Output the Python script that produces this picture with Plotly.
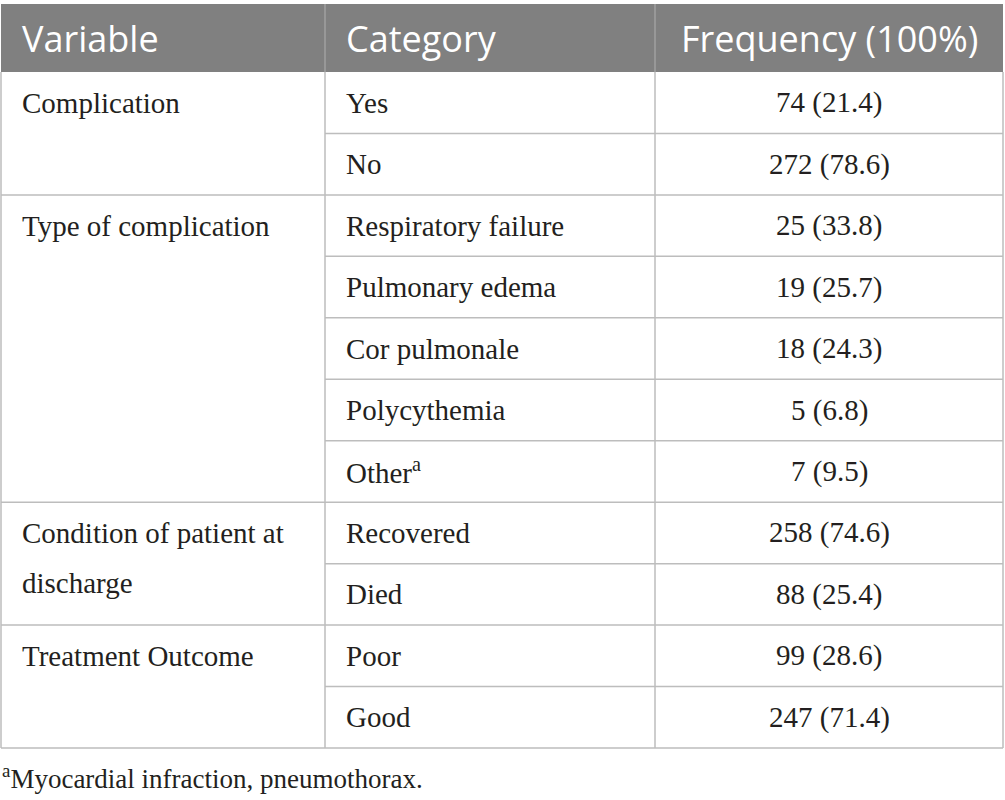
import plotly.graph_objects as go

# 表格数据
headers = ["Variable", "Category", "Frequency (100%)"]
variables = ["Complication", "Type of complication",
             "Condition of patient at\ndischarge", "Treatment Outcome"]
group_sizes = [2, 5, 2, 2]
categories = ["Yes", "No",
              "Respiratory failure", "Pulmonary edema", "Cor pulmonale",
              "Polycythemia", "Other<sup>a</sup>",
              "Recovered", "Died",
              "Poor", "Good"]
frequencies = ["74 (21.4)", "272 (78.6)",
               "25 (33.8)", "19 (25.7)", "18 (24.3)", "5 (6.8)", "7 (9.5)",
               "258 (74.6)", "88 (25.4)",
               "99 (28.6)", "247 (71.4)"]
footnote = "<sup>a</sup>Myocardial infraction, pneumothorax."

W, H = 1005, 800
col_x = [1, 325, 655, 1003]
head_top, head_bot = 4, 72
row_h = (748 - head_bot) / len(categories)
line_col = "#bdbdbd"
serif = dict(family="Liberation Serif", size=29, color="#231f20")
sans = dict(family="Open Sans", size=36, color="white")

fig = go.Figure()
shapes = []
annotations = []

# 表头背景
shapes.append(dict(type="rect", x0=col_x[0], x1=col_x[3], y0=head_top, y1=head_bot,
                   fillcolor="#808080", line=dict(width=0), layer="below"))
for x in col_x[1:3]:
    shapes.append(dict(type="line", x0=x, x1=x, y0=head_top, y1=head_bot,
                       line=dict(color="#a0a0a0", width=1.5)))

# 表头文字
hy = (head_top + head_bot) / 2
annotations.append(dict(x=20, y=hy, text=headers[0], xanchor="left", font=sans))
annotations.append(dict(x=344, y=hy, text=headers[1], xanchor="left", font=sans))
annotations.append(dict(x=(col_x[2] + col_x[3]) / 2, y=hy, text=headers[2],
                        xanchor="center", font=sans))

# 行
def row_top(i):
    return head_bot + i * row_h

for i, (cat, freq) in enumerate(zip(categories, frequencies)):
    yc = row_top(i) + row_h / 2
    annotations.append(dict(x=344, y=yc, text=cat, xanchor="left", font=serif))
    annotations.append(dict(x=(col_x[2] + col_x[3]) / 2, y=yc, text=freq, xanchor="center", font=serif))
    if i > 0:
        shapes.append(dict(type="line", x0=col_x[1], x1=col_x[3], y0=row_top(i), y1=row_top(i),
                           line=dict(color=line_col, width=1.5)))

# 变量列（合并单元格）
start = 0
for var, n in zip(variables, group_sizes):
    for k, part in enumerate(var.split("\n")):
        annotations.append(dict(x=20, y=row_top(start) + row_h / 2 + k * 50, text=part,
                                xanchor="left", font=serif))
    if start > 0:
        shapes.append(dict(type="line", x0=col_x[0], x1=col_x[1], y0=row_top(start), y1=row_top(start),
                           line=dict(color=line_col, width=1.5)))
    start += n

# 外框和竖线
bottom = row_top(len(categories))
for x in col_x:
    shapes.append(dict(type="line", x0=x, x1=x, y0=head_bot, y1=bottom,
                       line=dict(color=line_col, width=1.5)))
shapes.append(dict(type="line", x0=col_x[0], x1=col_x[3], y0=bottom, y1=bottom,
                   line=dict(color=line_col, width=1.5)))

for a in annotations:
    a.update(xref="x", yref="y", showarrow=False, yanchor="middle")

# 脚注
annotations.append(dict(x=0, xref="paper", y=777, yref="y", text=footnote,
                        xanchor="left", yanchor="middle", showarrow=False,
                        font=dict(serif, size=27)))

fig.update_layout(
    width=W, height=H,
    margin=dict(l=0, r=0, t=0, b=0),
    paper_bgcolor="white", plot_bgcolor="white",
    xaxis=dict(range=[0, W], visible=False, fixedrange=True),
    yaxis=dict(range=[H, 0], visible=False, fixedrange=True),
    shapes=shapes, annotations=annotations,
    showlegend=False,
)

# 去掉页面默认 body 边距
fig.write_html("out.html", config={"displayModeBar": False},
               post_script="document.body.style.margin='0';")
